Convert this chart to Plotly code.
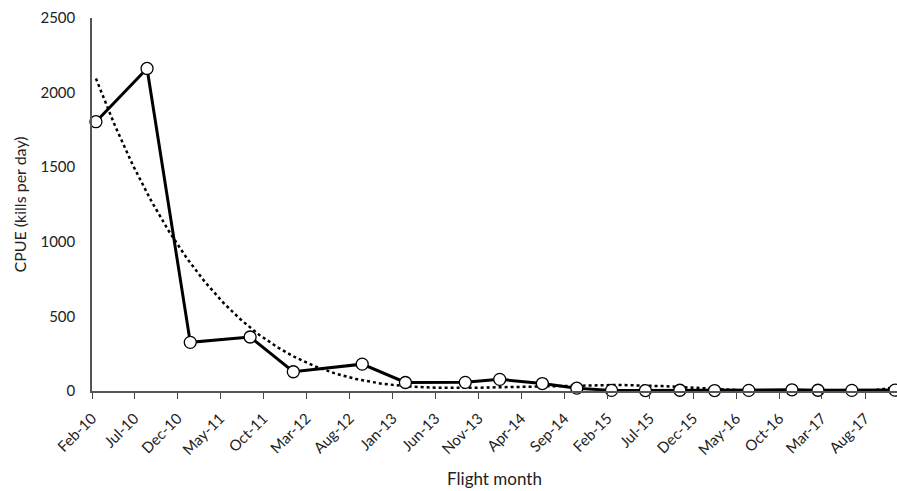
import numpy as np
import pandas as pd
import plotly.graph_objects as go

# Monthly catch-per-unit-effort from aerial culling flights
flight_dates = ["2010-02-15", "2010-08-15", "2011-01-15", "2011-08-15", "2012-01-15",
                "2012-09-15", "2013-02-15", "2013-09-15", "2014-01-15", "2014-06-15",
                "2014-10-15", "2015-02-15", "2015-06-15", "2015-10-15", "2016-02-15",
                "2016-06-15", "2016-11-15", "2017-02-15", "2017-06-15", "2017-11-15"]
cpue = [1805, 2162, 326, 362, 129, 180, 57, 58, 78, 50,
        19, 4, 3, 5, 3, 4, 8, 5, 4, 6]

tick_dates = ["2010-02-01", "2010-07-01", "2010-12-01", "2011-05-01", "2011-10-01",
              "2012-03-01", "2012-08-01", "2013-01-01", "2013-06-01", "2013-11-01",
              "2014-04-01", "2014-09-01", "2015-02-01", "2015-07-01", "2015-12-01",
              "2016-05-01", "2016-10-01", "2017-03-01", "2017-08-01"]
tick_labels = ["Feb-10", "Jul-10", "Dec-10", "May-11", "Oct-11", "Mar-12", "Aug-12",
               "Jan-13", "Jun-13", "Nov-13", "Apr-14", "Sep-14", "Feb-15", "Jul-15",
               "Dec-15", "May-16", "Oct-16", "Mar-17", "Aug-17"]

dates = pd.to_datetime(flight_dates)
days = (dates - dates[0]).days.values.astype(float)

# 4th-order polynomial trend through the series
coef = np.polyfit(days, cpue, 4)
grid = np.linspace(days[0], days[-1], 400)
grid_dates = dates[0] + pd.to_timedelta(grid, unit="D")
trend = np.polyval(coef, grid)

font_family = "Lato, 'Open Sans', sans-serif"

fig = go.Figure()
fig.add_trace(go.Scatter(
    x=grid_dates, y=trend, mode="lines",
    line=dict(color="black", width=2.5, dash="dot"),
    hoverinfo="skip", showlegend=False, cliponaxis=False))
fig.add_trace(go.Scatter(
    x=dates, y=cpue, mode="lines+markers",
    line=dict(color="black", width=3),
    marker=dict(size=12, color="white", line=dict(color="black", width=1.3)),
    showlegend=False, cliponaxis=False))

fig.update_layout(
    width=897, height=491,
    margin=dict(l=92, r=0, t=18, b=100),
    paper_bgcolor="white", plot_bgcolor="white",
    font=dict(family=font_family, size=15, color="#222222"),
    xaxis=dict(
        type="date",
        range=["2010-02-01", "2017-11-22"],
        tickmode="array", tickvals=tick_dates, ticktext=tick_labels,
        tickangle=-45, ticks="outside", ticklen=6, tickwidth=1.3, tickcolor="#444444",
        showline=True, linecolor="#555555", linewidth=1.5,
        showgrid=False, zeroline=False,
        ticklabelstandoff=5,
        tickfont=dict(size=15),
        title=dict(text="Flight month", font=dict(size=17), standoff=16),
    ),
    yaxis=dict(
        range=[0, 2500], tickmode="array", tickvals=[0, 500, 1000, 1500, 2000, 2500],
        showline=True, linecolor="#555555", linewidth=1.5,
        showgrid=False, zeroline=False, ticks="",
        ticklabelstandoff=12,
        tickfont=dict(size=15),
        title=dict(text="CPUE (kills per day)", font=dict(size=16), standoff=10),
    ),
)

fig.write_html("out.html")
